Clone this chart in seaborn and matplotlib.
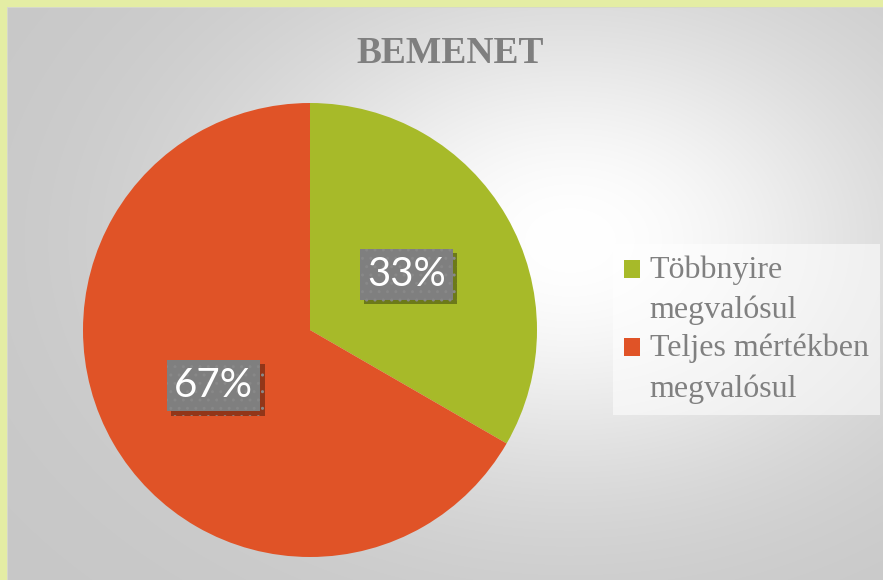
import numpy as np
import matplotlib
matplotlib.use("Agg")
import matplotlib.pyplot as plt
import matplotlib.patheffects as pe
from matplotlib.patches import Rectangle, Patch
from matplotlib.legend_handler import HandlerPatch
import seaborn as sns

# ---- data ----
categories = ["Többnyire\nmegvalósul", "Teljes mértékben\nmegvalósul"]
shares = [33.33, 66.67]
colors = ["#A7BA29", "#E05327"]
title = "BEMENET"

sns.set_theme(style="white")
plt.rcParams['font.family'] = ['Liberation Serif', 'DejaVu Sans']

W, H = 883, 580
fig = plt.figure(figsize=(W / 100, H / 100), dpi=100)

# ---- background with radial gradient and border ----
bg = fig.add_axes([0, 0, 1, 1])
bg.set_axis_off()
yy, xx = np.mgrid[0:H, 0:W]
d = np.hypot((xx - 570) / 1.4, (yy - 240))
v = 199 + 56 * np.exp(-(d / 240) ** 2)
img = np.dstack([v, v, v]) / 255.0
bg.imshow(img, extent=[0, W, H, 0], aspect='auto', interpolation='bilinear')
bg.add_patch(Rectangle((0, 0), W, 7, facecolor='#E4EDA4', edgecolor='none'))
bg.add_patch(Rectangle((0, 0), 7, H, facecolor='#E4EDA4', edgecolor='none'))
bg.add_patch(Rectangle((7, 7), W, 1.2, facecolor='#D6D8CA', edgecolor='none'))
bg.add_patch(Rectangle((7, 7), 1.2, H, facecolor='#D6D8CA', edgecolor='none'))
bg.set_xlim(0, W)
bg.set_ylim(H, 0)

# ---- pie ----
cx, cy, r = 310, 330, 227
ax = fig.add_axes([(cx - r) / W, (H - cy - r) / H, 2 * r / W, 2 * r / H])
label_font = ['Lato', 'DejaVu Sans']
wedges, texts, autotexts = ax.pie(
    shares, colors=colors, startangle=90, counterclock=False, radius=1,
    wedgeprops=dict(linewidth=0),
    autopct=lambda p: f"{p:.0f}%", pctdistance=0.49,
    textprops=dict(color='white', fontsize=29, family=label_font))
ax.set_xlim(-1, 1)
ax.set_ylim(-1, 1)
ax.set_aspect('equal')
ax.set_axis_off()

for t in autotexts:
    t.set_bbox(dict(boxstyle='square,pad=0.18', facecolor='#7F7F7F',
                    edgecolor='#888888', hatch='..', linewidth=0.0))
    t.set_zorder(5)
    t.get_bbox_patch().set_path_effects([
        pe.SimplePatchShadow(offset=(3, -3), shadow_rgbFace='black', alpha=0.35),
        pe.Normal()])

# ---- title ----
fig.text(450 / W, 1 - 63 / H, title, ha='center', va='baseline', fontsize=27,
         fontweight='bold', color='#7F7F7F', family='Liberation Serif')


# ---- legend ----
class TopPatchHandler(HandlerPatch):
    def create_artists(self, legend, orig_handle, xdescent, ydescent, width,
                       height, fontsize, trans):
        p = Rectangle((-xdescent, -ydescent + 15.0), width, height,
                      facecolor=orig_handle.get_facecolor(), edgecolor='none',
                      transform=trans)
        return [p]


handles = [Patch(facecolor=c, edgecolor='none') for c in colors]
leg = fig.legend(handles, categories, loc='upper left',
                 bbox_to_anchor=(613 / W, 1 - 244 / H), bbox_transform=fig.transFigure,
                 frameon=True, labelcolor='#808080',
                 handlelength=0.5, handleheight=0.5, handletextpad=0.3,
                 labelspacing=0.25, borderpad=0.35, borderaxespad=0.0, fancybox=False,
                 prop=dict(family='Liberation Serif', size=23),
                 handler_map={Patch: TopPatchHandler()})
for t in leg.get_texts():
    t.set_linespacing(1.5)
fr = leg.get_frame()
fr.set_facecolor('white')
fr.set_alpha(0.55)
fr.set_edgecolor('none')

fig.savefig('out.png', dpi=100)
